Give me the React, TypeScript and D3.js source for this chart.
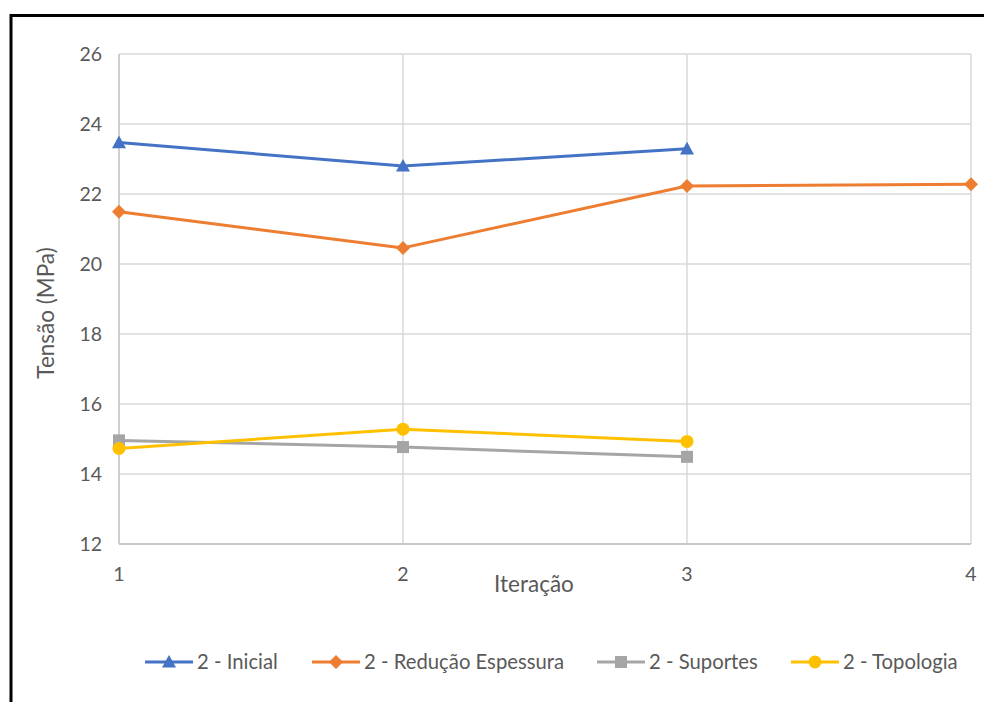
import React from "react";
import * as d3 from "d3";

const iterations = [1, 2, 3, 4];
const yTicks = [12, 14, 16, 18, 20, 22, 24, 26];
const inicial = [23.47, 22.8, 23.29];
const reducao = [21.49, 20.46, 22.23, 22.28];
const suportes = [14.96, 14.77, 14.49];
const topologia = [14.73, 15.28, 14.93];
const seriesNames = ["2 - Inicial", "2 - Redução Espessura", "2 - Suportes", "2 - Topologia"];
const colors = ["#4472C4", "#ED7D31", "#A5A5A5", "#FFC000"];
const markers = ["triangle", "diamond", "square", "circle"];
const allSeries = [inicial, reducao, suportes, topologia];

const FONT = "Lato, 'Open Sans', sans-serif";

function Marker({ type, x, y, color }: { type: string; x: number; y: number; color: string }) {
  if (type === "triangle") {
    const s = 7;
    return <path d={`M${x},${y - s}L${x + s},${y + s * 0.8}L${x - s},${y + s * 0.8}Z`} fill={color} />;
  }
  if (type === "diamond") {
    const s = 7;
    return <path d={`M${x},${y - s}L${x + s},${y}L${x},${y + s}L${x - s},${y}Z`} fill={color} />;
  }
  if (type === "square") {
    const s = 6;
    return <rect x={x - s} y={y - s} width={2 * s} height={2 * s} fill={color} />;
  }
  return <circle cx={x} cy={y} r={6.5} fill={color} />;
}

export default function App() {
  const x = d3.scaleLinear().domain([1, 4]).range([119, 971]);
  const y = d3.scaleLinear().domain([12, 26]).range([544, 54]);
  const line = d3
    .line<number>()
    .x((_, i) => x(iterations[i]))
    .y((d) => y(d));

  const legendX = [145, 312, 597, 791];

  return (
    <svg width={984} height={702} style={{ position: "absolute", left: 0, top: 0 }} fontFamily={FONT}>
      <rect x={0} y={0} width={984} height={702} fill="#fff" />
      <rect x={11} y={15.5} width={1000} height={1000} fill="none" stroke="#000" strokeWidth={3} />
      {/* gridlines */}
      {yTicks.map((t) => (
        <line key={"h" + t} x1={x(1)} x2={x(4)} y1={y(t)} y2={y(t)} stroke="#d9d9d9" strokeWidth={1.5} />
      ))}
      {iterations.slice(1).map((t) => (
        <line key={"v" + t} x1={x(t)} x2={x(t)} y1={y(26)} y2={y(12)} stroke="#d9d9d9" strokeWidth={1.5} />
      ))}
      {/* axes */}
      <line x1={x(1)} x2={x(1)} y1={y(26)} y2={y(12)} stroke="#bfbfbf" strokeWidth={1.5} />
      <line x1={x(1)} x2={x(4)} y1={y(12)} y2={y(12)} stroke="#bfbfbf" strokeWidth={1.5} />
      {yTicks.map((t) => (
        <text key={"yt" + t} x={102} y={y(t)} dy="0.35em" textAnchor="end" fontSize={19.5} fill="#595959">
          {t}
        </text>
      ))}
      {iterations.map((t) => (
        <text key={"xt" + t} x={x(t)} y={574} dy="0.35em" textAnchor="middle" fontSize={19.5} fill="#595959">
          {t}
        </text>
      ))}
      <text x={534} y={584} dy="0.35em" textAnchor="middle" fontSize={22.5} fill="#595959">
        Iteração
      </text>
      <text
        transform={`translate(46,313) rotate(-90)`}
        dy="0.35em"
        textAnchor="middle"
        fontSize={22.5}
        fill="#595959"
      >
        Tensão (MPa)
      </text>
      {/* series */}
      {allSeries.map((s, si) => (
        <g key={"s" + si}>
          <path d={line(s) || ""} fill="none" stroke={colors[si]} strokeWidth={3} strokeLinejoin="round" />
          {s.map((v, i) => (
            <Marker key={i} type={markers[si]} x={x(iterations[i])} y={y(v)} color={colors[si]} />
          ))}
        </g>
      ))}
      {/* legend */}
      {seriesNames.map((n, i) => (
        <g key={"l" + i}>
          <line x1={legendX[i]} x2={legendX[i] + 48} y1={662} y2={662} stroke={colors[i]} strokeWidth={3} />
          <Marker type={markers[i]} x={legendX[i] + 24} y={662} color={colors[i]} />
          <text x={legendX[i] + 52} y={662} dy="0.35em" fontSize={20.3} fill="#595959">
            {n}
          </text>
        </g>
      ))}
    </svg>
  );
}
